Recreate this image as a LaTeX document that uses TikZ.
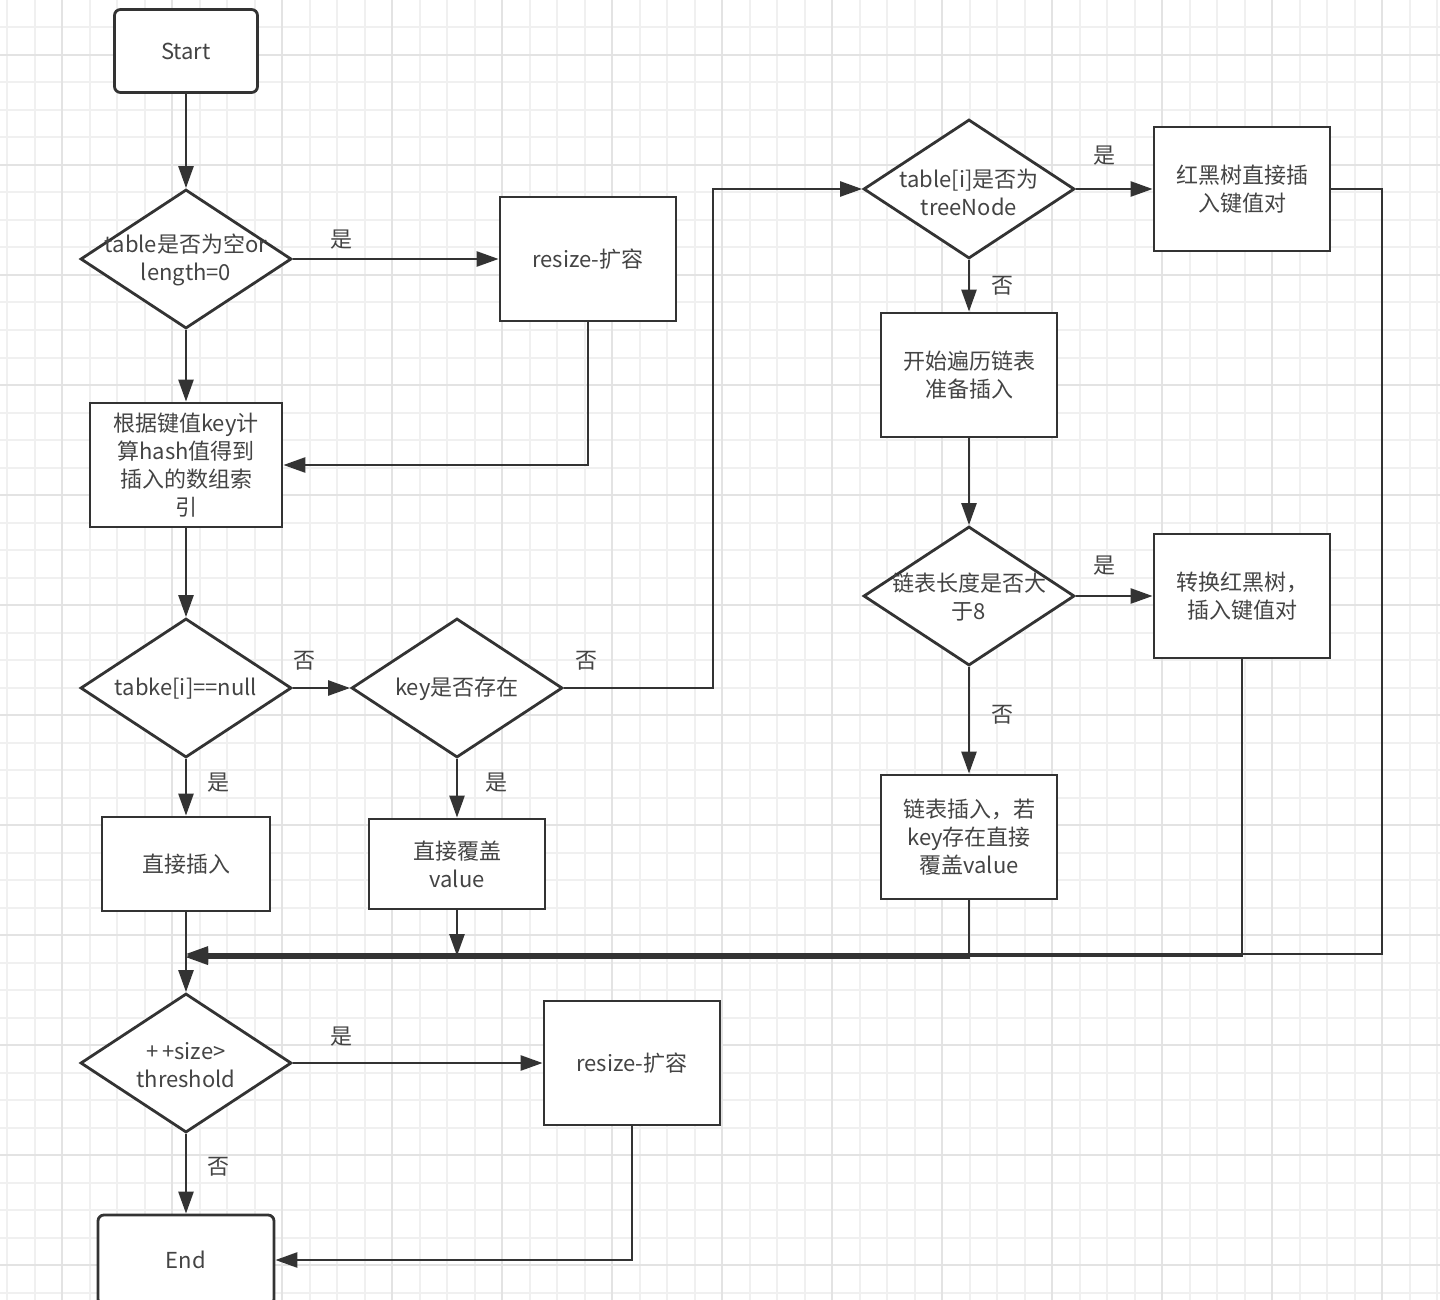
\documentclass[tikz,border=0pt]{standalone}
\usepackage{fontspec}
\setmainfont{Noto Sans CJK SC}
\usetikzlibrary{arrows.meta,shapes.geometric}

\definecolor{inkline}{HTML}{333333}
\definecolor{inktext}{HTML}{444444}
\definecolor{gridminor}{HTML}{F0F0F0}
\definecolor{gridmajor}{HTML}{E3E3E3}

\tikzset{
  base/.style={draw=inkline, line width=1.4pt, fill=white, text=inktext,
    font=\fontsize{11pt}{14pt}\selectfont, align=center, inner sep=0pt},
  startstop/.style={base, rectangle, rounded corners=3pt, minimum width=71.5pt, minimum height=41.5pt},
  proc/.style={base, rectangle, minimum width=88pt, minimum height=62pt},
  dec/.style={base, diamond, minimum width=105.5pt, minimum height=69.5pt},
  dtext/.style={text=inktext, font=\fontsize{11pt}{14pt}\selectfont, align=center, inner sep=0pt},
  lbl/.style={text=inktext, font=\fontsize{11pt}{14pt}\selectfont, inner sep=0pt},
  line/.style={draw=inkline, line width=1.3pt, -{Triangle[length=11pt,width=7.5pt]}},
}

\begin{document}
\begin{tikzpicture}[x=0.5pt, y=-0.5pt]
	\useasboundingbox (0,0) rectangle (1440,1300);
	\fill[white] (0,0) rectangle (1440,1300);
	% grid
	\foreach \k in {0,...,52}
		\draw[gridminor, line width=1pt] ({7+27.5*\k},0) -- ({7+27.5*\k},1300);
	\foreach \k in {1,...,47}
		\draw[gridminor, line width=1pt] (0,{27.5*\k}) -- (1440,{27.5*\k});
	\foreach \k in {0,...,12}
		\draw[gridmajor, line width=1pt] ({62+110*\k},0) -- ({62+110*\k},1300);
	\foreach \k in {0,...,11}
		\draw[gridmajor, line width=1pt] (0,{55+110*\k}) -- (1440,{55+110*\k});

	% left column
	\node[startstop] (start) at (186,51) {Start};
	\node[dec] (d1) at (186,259) {};
	\node[dtext] (d1t) at (186,260) {table是否为空or\\length=0};
	\node[proc] (rs1) at (588,259) {resize-扩容};
	\node[proc, minimum width=96pt] (hash) at (186,465) {根据键值key计\\算hash值得到\\插入的数组索\\引};
	\node[dec] (d2) at (186,688) {};
	\node[dtext] (d2t) at (186,689) {tabke[i]==null};
	\node[dec] (d3) at (457,688) {};
	\node[dtext] (d3t) at (457,689) {key是否存在};
	\node[proc, minimum width=84pt, minimum height=47pt] (ins) at (186,864) {直接插入};
	\node[proc, minimum height=45pt] (cov) at (457,864) {直接覆盖\\value};
	\node[dec] (d4) at (186,1063) {};
	\node[dtext] (d4t) at (186,1065) {+\,+size>\\threshold};
	\node[proc] (rs2) at (632,1063) {resize-扩容};
	\node[startstop, minimum width=88pt, minimum height=45pt] (end) at (186,1260) {End};

	% right column
	\node[dec] (tn) at (969,189) {};
	\node[dtext] (tnt) at (969,192) {table[i]是否为\\treeNode};
	\node[proc] (rbt) at (1242,189) {红黑树直接插\\入键值对};
	\node[proc] (walk) at (969,375) {开始遍历链表\\准备插入};
	\node[dec] (d5) at (969,596) {};
	\node[dtext] (d5t) at (969,597) {链表长度是否大\\于8};
	\node[proc] (conv) at (1242,596) {转换红黑树，\\插入键值对};
	\node[proc] (lins) at (969,837) {链表插入，若\\key存在直接\\覆盖value};

	\coordinate (merge) at (186,956);
	\coordinate (bend) at (713,688);
	\coordinate (rtrail) at (1382,954);

	% connectors
	\draw[line] (start) -- (d1);
	\draw[line] (d1) -- (rs1);
	\draw[line] (d1) -- (hash);
	\draw[line] (rs1.south) |- (hash.east);
	\draw[line] (hash) -- (d2);
	\draw[line] (d2) -- (d3);
	\draw[line] (d2) -- (ins);
	\draw[line] (d3) -- (cov);
	\draw[line] (d3.east) -- (bend) |- (tn.west);
	\draw[line] (tn) -- (rbt);
	\draw[line] (tn) -- (walk);
	\draw[line] (walk) -- (d5);
	\draw[line] (d5) -- (conv);
	\draw[line] (d5) -- (lins);
	\draw[line] (rbt.east) -| (rtrail) -- (merge |- rtrail);
	\draw[line] (conv.south) |- (merge);
	\draw[line] (lins.south) |- ([yshift=-0.6pt]merge);
	\draw[line] (cov.south) -- (cov.south |- merge);
	\draw[line] (ins) -- (d4);
	\draw[line] (d4) -- (rs2);
	\draw[line] (d4) -- (end);
	\draw[line] (rs2.south) |- (end.east);

	% yes / no labels
	\node[lbl] (l1) at (341,240) {是};
	\node[lbl] (l2) at (304,661) {否};
	\node[lbl] (l3) at (218,783) {是};
	\node[lbl] (l4) at (496,783) {是};
	\node[lbl] (l5) at (586,661) {否};
	\node[lbl] (l6) at (1104,156) {是};
	\node[lbl] (l7) at (1002,286) {否};
	\node[lbl] (l8) at (1104,566) {是};
	\node[lbl] (l9) at (1002,715) {否};
	\node[lbl] (l10) at (341,1037) {是};
	\node[lbl] (l11) at (218,1167) {否};
\end{tikzpicture}
\end{document}
